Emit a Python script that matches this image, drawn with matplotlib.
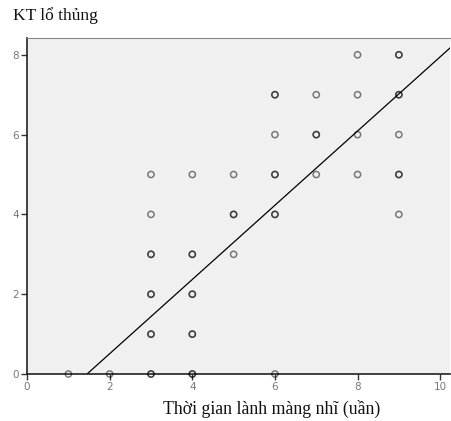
import numpy as np
import matplotlib.pyplot as plt

# healing time (weeks) vs. perforation size; repeated pairs listed more than once
x_weeks = [1, 2,
           3, 3, 3, 3, 3, 3, 3, 3, 3, 3,
           4, 4, 4, 4, 4, 4, 4, 4, 4,
           5, 5, 5, 5,
           6, 6, 6, 6, 6, 6, 6, 6,
           7, 7, 7, 7,
           8, 8, 8, 8,
           9, 9, 9, 9, 9, 9, 9, 9]
y_size = [0, 0,
          0, 0, 1, 1, 2, 2, 3, 3, 4, 5,
          0, 0, 1, 1, 2, 2, 3, 3, 5,
          3, 4, 4, 5,
          0, 4, 4, 5, 5, 6, 7, 7,
          5, 6, 6, 7,
          5, 6, 7, 8,
          4, 5, 5, 6, 7, 7, 8, 8]

# linear fit line
fit_slope = 0.93
fit_intercept = -1.35

x_ticks = [0, 2, 4, 6, 8, 10]
y_ticks = [0, 2, 4, 6, 8]

fig = plt.figure(figsize=(4.51, 4.21), dpi=100)
ax = fig.add_axes([0.06, 0.1116, 0.938, 0.798])
ax.set_facecolor('#f0f0f0')

ax.scatter(x_weeks, y_size, s=20, facecolors='none', edgecolors='black',
           alpha=0.5, linewidths=1.1, clip_on=False, zorder=3)

xs = np.array([-fit_intercept / fit_slope, 10.5])
ax.plot(xs, fit_slope * xs + fit_intercept, color='black', lw=0.9, zorder=2)

ax.set_xlim(0, 10.24)
ax.set_ylim(0, 8.42)
ax.set_xticks(x_ticks)
ax.set_yticks(y_ticks)
ax.tick_params(axis='both', direction='out', length=4, width=1, colors='#333333',
               labelcolor='#777777', labelsize=7.5, pad=2)

for side in ['left', 'bottom']:
    ax.spines[side].set_color('#222222')
    ax.spines[side].set_linewidth(1.2)
ax.spines['top'].set_color('#888888')
ax.spines['right'].set_visible(False)

fig.text(0.029, 0.963, 'KT lổ thủng', family='Liberation Serif', fontsize=12.5,
         color='#111111', va='center', ha='left')
fig.text(0.603, 0.028, 'Thời gian lành màng nhĩ (uần)', family='Liberation Serif',
         fontsize=12.8, color='#111111', va='center', ha='center')

fig.savefig('out.png', dpi=100)
